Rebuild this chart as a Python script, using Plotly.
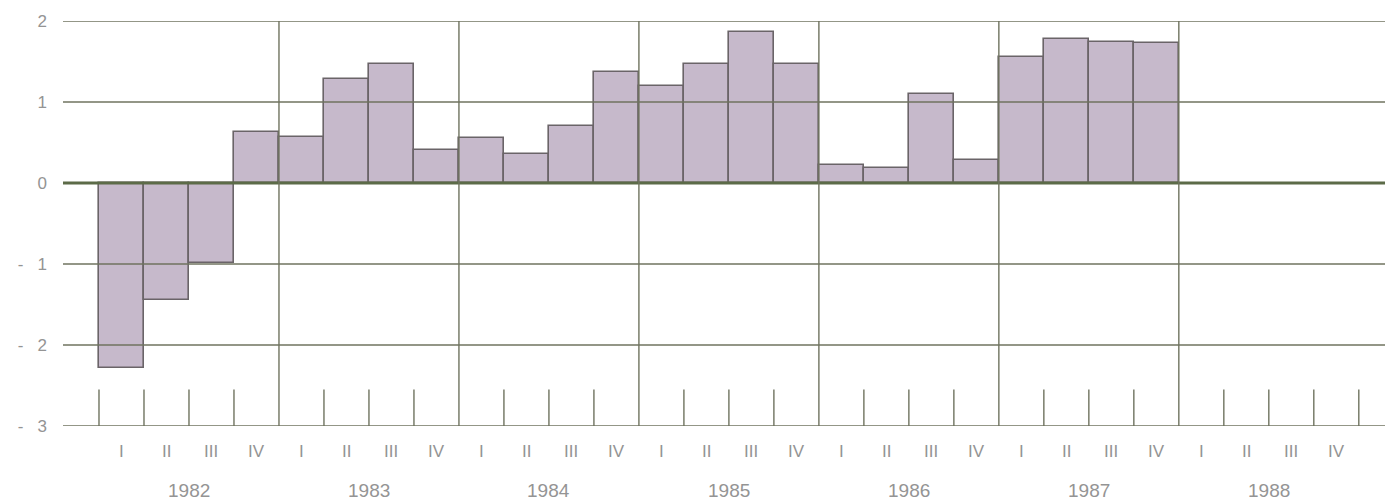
import plotly.graph_objects as go

years = ["1982", "1983", "1984", "1985", "1986", "1987", "1988"]
quarters = ["I", "II", "III", "IV"]
values = [
    -2.29, -1.45, -0.99, 0.63,   # 1982
    0.57, 1.28, 1.47, 0.41,      # 1983
    0.55, 0.36, 0.70, 1.37,      # 1984
    1.20, 1.47, 1.87, 1.47,      # 1985
    0.22, 0.19, 1.10, 0.28,      # 1986
    1.56, 1.78, 1.74, 1.73,      # 1987
]
y_ticks = [-3, -2, -1, 0, 1, 2]
y_ticktext = ["-\u00a0\u00a0\u00a03", "-\u00a0\u00a0\u00a02", "-\u00a0\u00a0\u00a01", "0", "1", "2"]

n_q = len(years) * 4
x_centers = [i + 0.5 for i in range(len(values))]

GRID = "#6f735f"
ZERO = "#5c6b48"
BORDER = "#6a6468"
FILL = "#c6b9cb"
TXT = "#949494"
FONT = "Liberation Sans, Arial, sans-serif"

fig = go.Figure()
fig.add_trace(go.Bar(
    x=x_centers, y=values, width=1.0,
    marker=dict(color=FILL, line=dict(color=BORDER, width=1.6)),
    hoverinfo="y",
))

shapes = []
# horizontal grid lines
for v in y_ticks:
    shapes.append(dict(type="line", xref="paper", yref="y", x0=0, x1=1, y0=v, y1=v,
                       line=dict(color=ZERO if v == 0 else GRID, width=3.2 if v == 0 else 1.4),
                       layer="above"))
# year separators (full height)
for k in range(1, len(years)):
    shapes.append(dict(type="line", xref="x", yref="y", x0=4 * k, x1=4 * k, y0=-3, y1=2,
                       line=dict(color=GRID, width=1.4), layer="above"))
# quarter ticks
for q in range(n_q + 1):
    if q % 4 == 0 and 0 < q < n_q:
        continue
    shapes.append(dict(type="line", xref="x", yref="y", x0=q, x1=q, y0=-3, y1=-2.55,
                       line=dict(color=GRID, width=1.4), layer="above"))

annotations = []
for q in range(n_q):
    annotations.append(dict(x=q + 0.5, y=-3, xref="x", yref="y", yshift=-25,
                            text=quarters[q % 4], showarrow=False,
                            font=dict(size=17, color=TXT, family=FONT)))
for k, yr in enumerate(years):
    annotations.append(dict(x=4 * k + 2, y=-3, xref="x", yref="y", yshift=-64,
                            text=yr, showarrow=False,
                            font=dict(size=19, color=TXT, family=FONT)))

fig.update_layout(
    width=1385, height=494,
    margin=dict(l=55, r=0, t=13, b=76, pad=0),
    paper_bgcolor="white", plot_bgcolor="white",
    showlegend=False,
    shapes=shapes, annotations=annotations,
    bargap=0,
    xaxis=dict(range=[-0.8, 28.76], showgrid=False, zeroline=False,
               showticklabels=False, ticks=""),
    yaxis=dict(range=[-3, 2], tickvals=y_ticks, ticktext=y_ticktext,
               showgrid=False, zeroline=False, ticks="",
               ticklabelstandoff=15,
               tickfont=dict(size=17, color=TXT, family=FONT)),
)

fig.write_html("out.html")
